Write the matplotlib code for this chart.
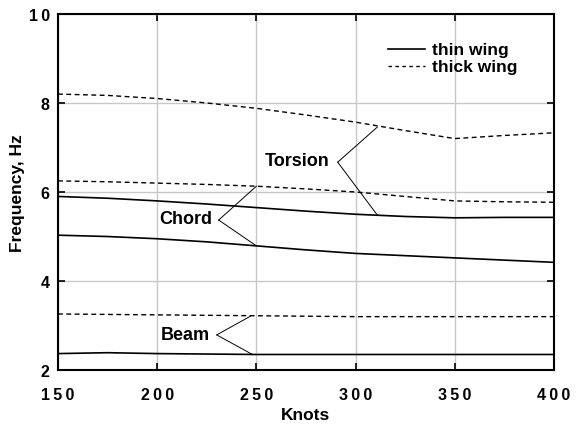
import numpy as np
import matplotlib
matplotlib.use("Agg")
import matplotlib.pyplot as plt

plt.rcParams['font.family'] = ['Liberation Sans', 'DejaVu Sans']
plt.rcParams['font.weight'] = 'bold'

# airspeed, knots
knots = [150, 175, 200, 225, 250, 275, 300, 325, 350, 375, 400]

# thin wing frequencies (Hz)
torsion_thin = [5.90, 5.86, 5.80, 5.73, 5.65, 5.57, 5.50, 5.45, 5.42, 5.43, 5.43]
chord_thin   = [5.03, 5.00, 4.95, 4.88, 4.79, 4.70, 4.62, 4.57, 4.52, 4.47, 4.42]
beam_thin    = [2.37, 2.39, 2.37, 2.36, 2.35, 2.35, 2.35, 2.35, 2.35, 2.35, 2.35]

# thick wing frequencies (Hz)
torsion_thick = [8.20, 8.17, 8.10, 8.00, 7.88, 7.73, 7.57, 7.38, 7.20, 7.27, 7.33]
chord_thick   = [6.25, 6.23, 6.20, 6.17, 6.13, 6.07, 6.00, 5.90, 5.80, 5.78, 5.77]
beam_thick    = [3.26, 3.25, 3.24, 3.23, 3.22, 3.21, 3.20, 3.20, 3.20, 3.20, 3.20]

x_ticks = [150, 200, 250, 300, 350, 400]
y_ticks = [2, 4, 6, 8, 10]

# labels: (text, text pos, vertex, two end points)
labels = [
    ("Torsion", (270.5, 6.70), (291, 6.67), [(311, 7.46), (311, 5.48)]),
    ("Chord",   (214.5, 5.40), (231, 5.37), [(250, 6.13), (250, 4.79)]),
    ("Beam",    (214.0, 2.79), (230, 2.79), [(247, 3.21), (248, 2.35)]),
]

DASH = (0, (3.5, 2.5))

fig = plt.figure(figsize=(5.76, 4.27), dpi=100)
ax = fig.add_axes([0.1007, 0.131, 0.861, 0.834])

for y in [torsion_thin, chord_thin, beam_thin]:
    ax.plot(knots, y, color='black', lw=1.2, ls='-')
for y in [torsion_thick, chord_thick, beam_thick]:
    ax.plot(knots, y, color='black', lw=1.0, ls=DASH)

for txt, tpos, vert, ends in labels:
    ax.text(tpos[0], tpos[1], txt, fontsize=13, fontweight='bold', ha='center', va='center')
    for e in ends:
        ax.plot([vert[0], e[0]], [vert[1], e[1]], color='black', lw=0.7)

# boxless legend, drawn by hand
ax.plot([316.3, 334.9], [9.21, 9.21], color='black', lw=1.2)
ax.plot([316.3, 334.9], [8.83, 8.83], color='black', lw=1.0, ls=(0, (2.5, 2.5)))
ax.text(338.5, 9.21, "thin wing", fontsize=12.5, fontweight='bold', va='center')
ax.text(338.5, 8.83, "thick wing", fontsize=12.5, fontweight='bold', va='center')

ax.set_xlim(150, 400)
ax.set_ylim(2, 10)
ax.set_xticks(x_ticks)
ax.set_yticks(y_ticks)
# wide letter spacing like the original
ax.set_xticklabels(['\u2009'.join(str(v)) for v in x_ticks])
ax.set_yticklabels(['\u2009'.join(str(v)) for v in y_ticks])
ax.grid(True, color='#c8c8c8', lw=1.0)
ax.tick_params(direction='in', length=5, width=1.2, top=True, right=True, labelsize=11.5)
ax.tick_params(axis='x', pad=12)
ax.tick_params(axis='y', pad=6)
for lab in ax.get_xticklabels() + ax.get_yticklabels():
    lab.set_fontweight('bold')
for sp in ax.spines.values():
    sp.set_linewidth(1.5)

ax.set_xlabel("Knots", fontsize=12.5, fontweight='bold')
ax.set_ylabel("Frequency, Hz", fontsize=12.5, fontweight='bold')
ax.xaxis.set_label_coords(0.5, -0.103)
ax.yaxis.set_label_coords(-0.067, 0.5)

fig.savefig("out.png", dpi=100)
